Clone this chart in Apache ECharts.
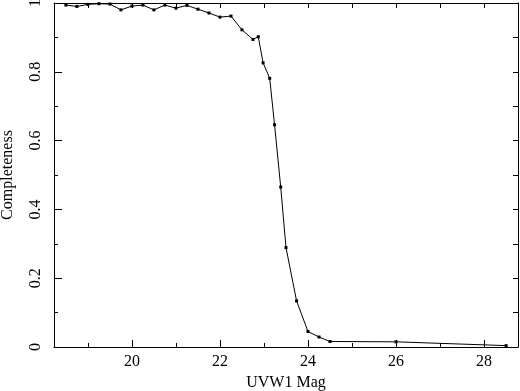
<!DOCTYPE html>
<html lang="en">
<head>
    <meta charset="UTF-8" />
    <title>UVW1 completeness</title>
    <script src="https://cdn.jsdelivr.net/npm/echarts@6/dist/echarts.min.js"></script>
    <style>
        html, body { margin: 0; padding: 0; background: #ffffff; }
        #main { width: 520px; height: 391px; }
    </style>
</head>
<body>
    <div id="main"></div>
    <script type="text/javascript">
        // magnitudes and completeness
        var mags = [18.5, 18.75, 19, 19.25, 19.5, 19.75, 20, 20.25, 20.5, 20.75, 21, 21.25, 21.5, 21.75, 22, 22.25, 22.5, 22.75, 22.87, 22.98, 23.13, 23.24, 23.38, 23.5, 23.74, 24, 24.25, 24.5, 26, 28.5];
        var completeness = [0.994, 0.990, 0.996, 0.998, 0.997, 0.980, 0.991, 0.994, 0.980, 0.994, 0.985, 0.993, 0.982, 0.971, 0.959, 0.962, 0.922, 0.894, 0.902, 0.826, 0.781, 0.646, 0.465, 0.289, 0.134, 0.045, 0.029, 0.016, 0.015, 0.004];
        var xMajor = [20, 22, 24, 26, 28];
        var xMinor = [19, 21, 23, 25, 27];
        var xTop = [19, 20, 21, 22, 23, 24, 25, 26, 27, 28];

        var font = 'Liberation Serif';
        var chart = echarts.init(document.getElementById('main'));

        var pts = mags.map(function (m, i) { return [m, completeness[i]]; });

        var xBase = { type: 'value', min: 18.23, max: 28.77, splitLine: { show: false } };

        var option = {
            animation: false,
            grid: { left: 54, right: 2, top: 3, bottom: 44, outerBoundsMode: 'none', containLabel: false },
            xAxis: [
                Object.assign({}, xBase, {
                    position: 'bottom',
                    name: 'UVW1 Mag',
                    nameLocation: 'middle',
                    nameGap: 26,
                    nameTextStyle: { fontFamily: font, fontSize: 16, color: '#000' },
                    axisLine: { lineStyle: { color: '#000', width: 1 } },
                    axisTick: { inside: true, length: 7, customValues: xMajor, lineStyle: { color: '#000' } },
                    axisLabel: { customValues: xMajor, fontFamily: font, fontSize: 16, color: '#000', margin: 7 }
                }),
                Object.assign({}, xBase, {
                    position: 'bottom',
                    axisLine: { show: false },
                    axisTick: { inside: true, length: 4, customValues: xMinor, lineStyle: { color: '#000' } },
                    axisLabel: { show: false }
                }),
                Object.assign({}, xBase, {
                    position: 'top',
                    axisLine: { lineStyle: { color: '#000', width: 1 } },
                    axisTick: { inside: true, length: 5, customValues: xTop, lineStyle: { color: '#000' } },
                    axisLabel: { show: false }
                })
            ],
            yAxis: [
                {
                    type: 'value',
                    position: 'left',
                    min: 0,
                    max: 1,
                    interval: 0.2,
                    name: 'Completeness',
                    nameLocation: 'middle',
                    nameGap: 38,
                    nameRotate: 90,
                    nameTextStyle: { fontFamily: font, fontSize: 16, color: '#000' },
                    splitLine: { show: false },
                    axisLine: { show: true, lineStyle: { color: '#000', width: 1 } },
                    axisTick: { inside: true, length: 8, lineStyle: { color: '#000' } },
                    minorTick: { show: true, splitNumber: 2, length: 4, lineStyle: { color: '#000' } },
                    axisLabel: {
                        rotate: 90, fontFamily: font, fontSize: 16, color: '#000', margin: 10,
                        formatter: function (v) { return String(+v.toFixed(1)); }
                    }
                },
                {
                    type: 'value',
                    position: 'right',
                    min: 0,
                    max: 1,
                    interval: 0.1,
                    splitLine: { show: false },
                    axisLine: { show: true, lineStyle: { color: '#000', width: 1 } },
                    axisTick: { inside: true, length: 5, lineStyle: { color: '#000' } },
                    axisLabel: { show: false }
                }
            ],
            series: [
                {
                    type: 'line',
                    data: pts,
                    symbol: 'rect',
                    symbolSize: 3,
                    itemStyle: { color: '#000' },
                    lineStyle: { color: '#000', width: 1 }
                }
            ]
        };
        chart.setOption(option);
    </script>
</body>
</html>
